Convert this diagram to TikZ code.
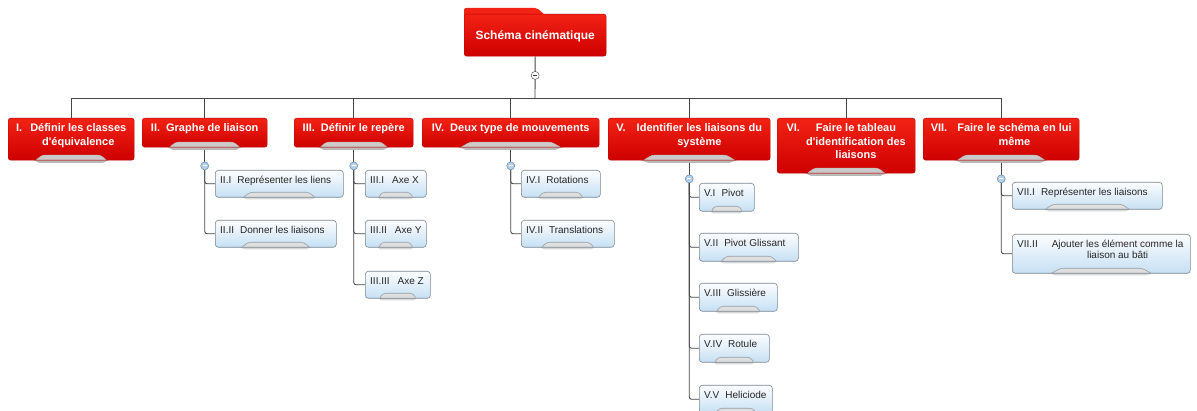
\documentclass[tikz,border=0pt]{standalone}
\usepackage{fontspec}
\setmainfont{Liberation Sans}
\usetikzlibrary{calc}
\pgfdeclarelayer{back}
\pgfdeclarelayer{bg}
\pgfsetlayers{back,bg,main}
\definecolor{redtop}{RGB}{242,34,20}
\definecolor{redbot}{RGB}{206,0,0}
\definecolor{redline}{RGB}{190,0,0}
\definecolor{bluetop}{RGB}{252,253,255}
\definecolor{bluebot}{RGB}{198,224,243}
\definecolor{cborder}{RGB}{125,135,145}
\definecolor{connc}{RGB}{70,70,70}
\definecolor{circfill}{RGB}{180,208,232}
\definecolor{circline}{RGB}{105,135,165}
\newcommand\mytab[4]{%
 \path[top color=#1,bottom color=#2,draw=#4,line width=0.6pt]
 ($(path picture bounding box.south west)!0.21!(path picture bounding box.south east)+(0,-1pt)$)
 -- ($(path picture bounding box.south west)!0.27!(path picture bounding box.south east)+(0,#3)$)
 -- ($(path picture bounding box.south west)!0.73!(path picture bounding box.south east)+(0,#3)$)
 -- ($(path picture bounding box.south west)!0.79!(path picture bounding box.south east)+(0,-1pt)$) -- cycle;}
\newcommand\rbox[6]{%
 \fill[gray!55] ($(#2,#5)!0.2!(#4,#5)$) -- ($(#2,#5)!0.25!(#4,#5)+(0,-3pt)$) -- ($(#2,#5)!0.75!(#4,#5)+(0,-3pt)$) -- ($(#2,#5)!0.8!(#4,#5)$) -- cycle;
 \node[redbox, anchor=north west, minimum width=#4pt-#2pt, minimum height=#5pt-#3pt] (#1) at (#2,#3) {};
 \node[redtext, anchor=base] (#1-t) at ([yshift=-14pt]#1.north) {#6};}
\newcommand\cbox[6]{%
 \fill[gray!30] ($(#2,#5)!0.2!(#4,#5)$) -- ($(#2,#5)!0.25!(#4,#5)+(0,-2.5pt)$) -- ($(#2,#5)!0.75!(#4,#5)+(0,-2.5pt)$) -- ($(#2,#5)!0.8!(#4,#5)$) -- cycle;
 \node[childbox, anchor=north west, minimum width=#4pt-#2pt, minimum height=#5pt-#3pt] (#1) at (#2,#3) {};
 \node[ctext, anchor=base west] (#1-t) at ([xshift=5pt,yshift=-14pt]#1.north west) {#6};}
\newcommand\rtxt[3][7pt]{\begin{tabular}[t]{@{}l@{\hspace{#1}}c@{}}#2 & #3\end{tabular}}
\begin{document}
\begin{tikzpicture}[x=1pt,y=-1pt,
 conn/.style={draw=connc, line width=0.9pt},
 redbox/.style={rounded corners=2.5pt, draw=redline, line width=0.4pt, top color=redtop, bottom color=redbot, inner sep=0pt, path picture={\mytab{gray!12}{gray!45}{5pt}{gray!50}}},
 rootbox/.style={rounded corners=2.5pt, draw=redline, line width=0.4pt, top color=redtop, bottom color=redbot, inner sep=0pt},
 childbox/.style={rounded corners=3pt, draw=cborder, line width=0.6pt, top color=bluetop, bottom color=bluebot, inner sep=0pt, path picture={\mytab{gray!8}{gray!28}{5pt}{cborder!80}}},
 redtext/.style={text=white, font=\fontsize{11}{13.5}\selectfont\bfseries, inner sep=0pt},
 ctext/.style={text=black!85, font=\fontsize{10}{11}\selectfont, inner sep=0pt},
 circ/.style={circle, draw=circline, fill=circfill, minimum size=8pt, inner sep=0pt, line width=0.5pt,
   path picture={\draw[white, line width=0.9pt] ([xshift=-2pt]path picture bounding box.center) -- ([xshift=2pt]path picture bounding box.center);}},
 rootcirc/.style={circle, draw=black!65, fill=white, minimum size=8pt, inner sep=0pt, line width=0.5pt,
   path picture={\draw[black!75, line width=0.8pt] ([xshift=-2pt]path picture bounding box.center) -- ([xshift=2pt]path picture bounding box.center);}}
]
\useasboundingbox (0,0) rectangle (1197,411);
\begin{pgfonlayer}{back}
\fill[white] (0,0) rectangle (1197,411);
\end{pgfonlayer}
% root
\fill[redtop, rounded corners=2pt] (464,20) -- (464,8) -- (537,8) -- (546,16) -- (546,20) -- cycle;
\node[rootbox, anchor=north west, minimum width=142pt, minimum height=42pt] (root) at (464,14) {};
\node[redtext, font=\fontsize{12}{14}\selectfont\bfseries, anchor=base] (root-t) at ([yshift=-25.5pt]root.north) {Schéma cinématique};
\node[rootcirc] (c0) at ([yshift=-19pt]root.south) {};
\coordinate (bar) at (535,98);
% level 1
\rbox{b1}{8}{118}{134}{160}{\rtxt[8pt]{I.}{Définir les classes\\ & d\textquotesingle équivalence}}
\rbox{b2}{142}{118}{267}{147}{\rtxt[6pt]{II.}{Graphe de liaison}}
\rbox{b3}{294}{118}{413}{147}{\rtxt[6pt]{III.}{Définir le repère}}
\rbox{b4}{422}{118}{599}{147}{\rtxt[6pt]{IV.}{Deux type de mouvements}}
\rbox{b5}{608}{118}{770}{160}{\rtxt[11pt]{V.}{Identifier les liaisons du\\ & système}}
\rbox{b6}{777}{118}{915}{173}{\rtxt[6pt]{VI.}{Faire le tableau\\ & d\textquotesingle identification des\\ & liaisons}}
\rbox{b7}{923}{118}{1079}{160}{\rtxt[10pt]{VII.}{Faire le schéma en lui\\ & même}}
% children
\cbox{c21}{215}{170}{343}{197}{II.I\hspace{6pt}Représenter les liens}
\cbox{c22}{215}{220}{336}{247}{II.II\hspace{6pt}Donner les liaisons}
\cbox{c31}{365}{170}{426}{197}{III.I\hspace{8pt}Axe X}
\cbox{c32}{365}{220}{426}{247}{III.II\hspace{8pt}Axe Y}
\cbox{c33}{365}{271}{430}{298}{III.III\hspace{8pt}Axe Z}
\cbox{c41}{521}{170}{600}{197}{IV.I\hspace{6pt}Rotations}
\cbox{c42}{521}{220}{614}{247}{IV.II\hspace{6pt}Translations}
\cbox{c51}{699}{183}{754}{211}{V.I\hspace{6pt}Pivot}
\cbox{c52}{699}{233}{798}{261}{V.II\hspace{6pt}Pivot Glissant}
\cbox{c53}{699}{283}{777}{311}{V.III\hspace{6pt}Glissière}
\cbox{c54}{699}{334}{769}{362}{V.IV\hspace{6pt}Rotule}
\cbox{c55}{699}{385}{772}{413}{V.V\hspace{6pt}Heliciode}
\cbox{c71}{1012}{182}{1162}{209}{VII.I\hspace{6pt}Représenter les liaisons}
\cbox{c72}{1012}{234}{1190}{273}{\begin{tabular}[t]{@{}l@{\hspace{14pt}}c@{}}VII.II & Ajouter les élément comme la\\ & liaison au bâti\end{tabular}}
% collapse circles
\node[circ] (c2) at ([yshift=-18.5pt]b2.south) {};
\node[circ] (c3) at ([yshift=-18.5pt]b3.south) {};
\node[circ] (c4) at ([yshift=-18.5pt]b4.south) {};
\node[circ] (c5) at ([yshift=-18.5pt]b5.south) {};
\node[circ] (c7) at ([yshift=-18.5pt]b7.south) {};
% connectors
\begin{pgfonlayer}{bg}
\draw[conn] (root.south) -- (bar);
\foreach \b in {b1,b2,b3,b4,b5,b6,b7} \draw[conn] (bar) -| (\b.north);
\foreach \p in {2,3,4,5,7} \draw[conn] (b\p.south) -- (c\p);
\foreach \p/\k in {2/c21,2/c22,3/c31,3/c32,3/c33,4/c41,4/c42,5/c51,5/c52,5/c53,5/c54,5/c55,7/c71,7/c72}
  \draw[conn, rounded corners=2.5pt] (c\p) |- (\k.west);
\end{pgfonlayer}
\end{tikzpicture}
\end{document}
